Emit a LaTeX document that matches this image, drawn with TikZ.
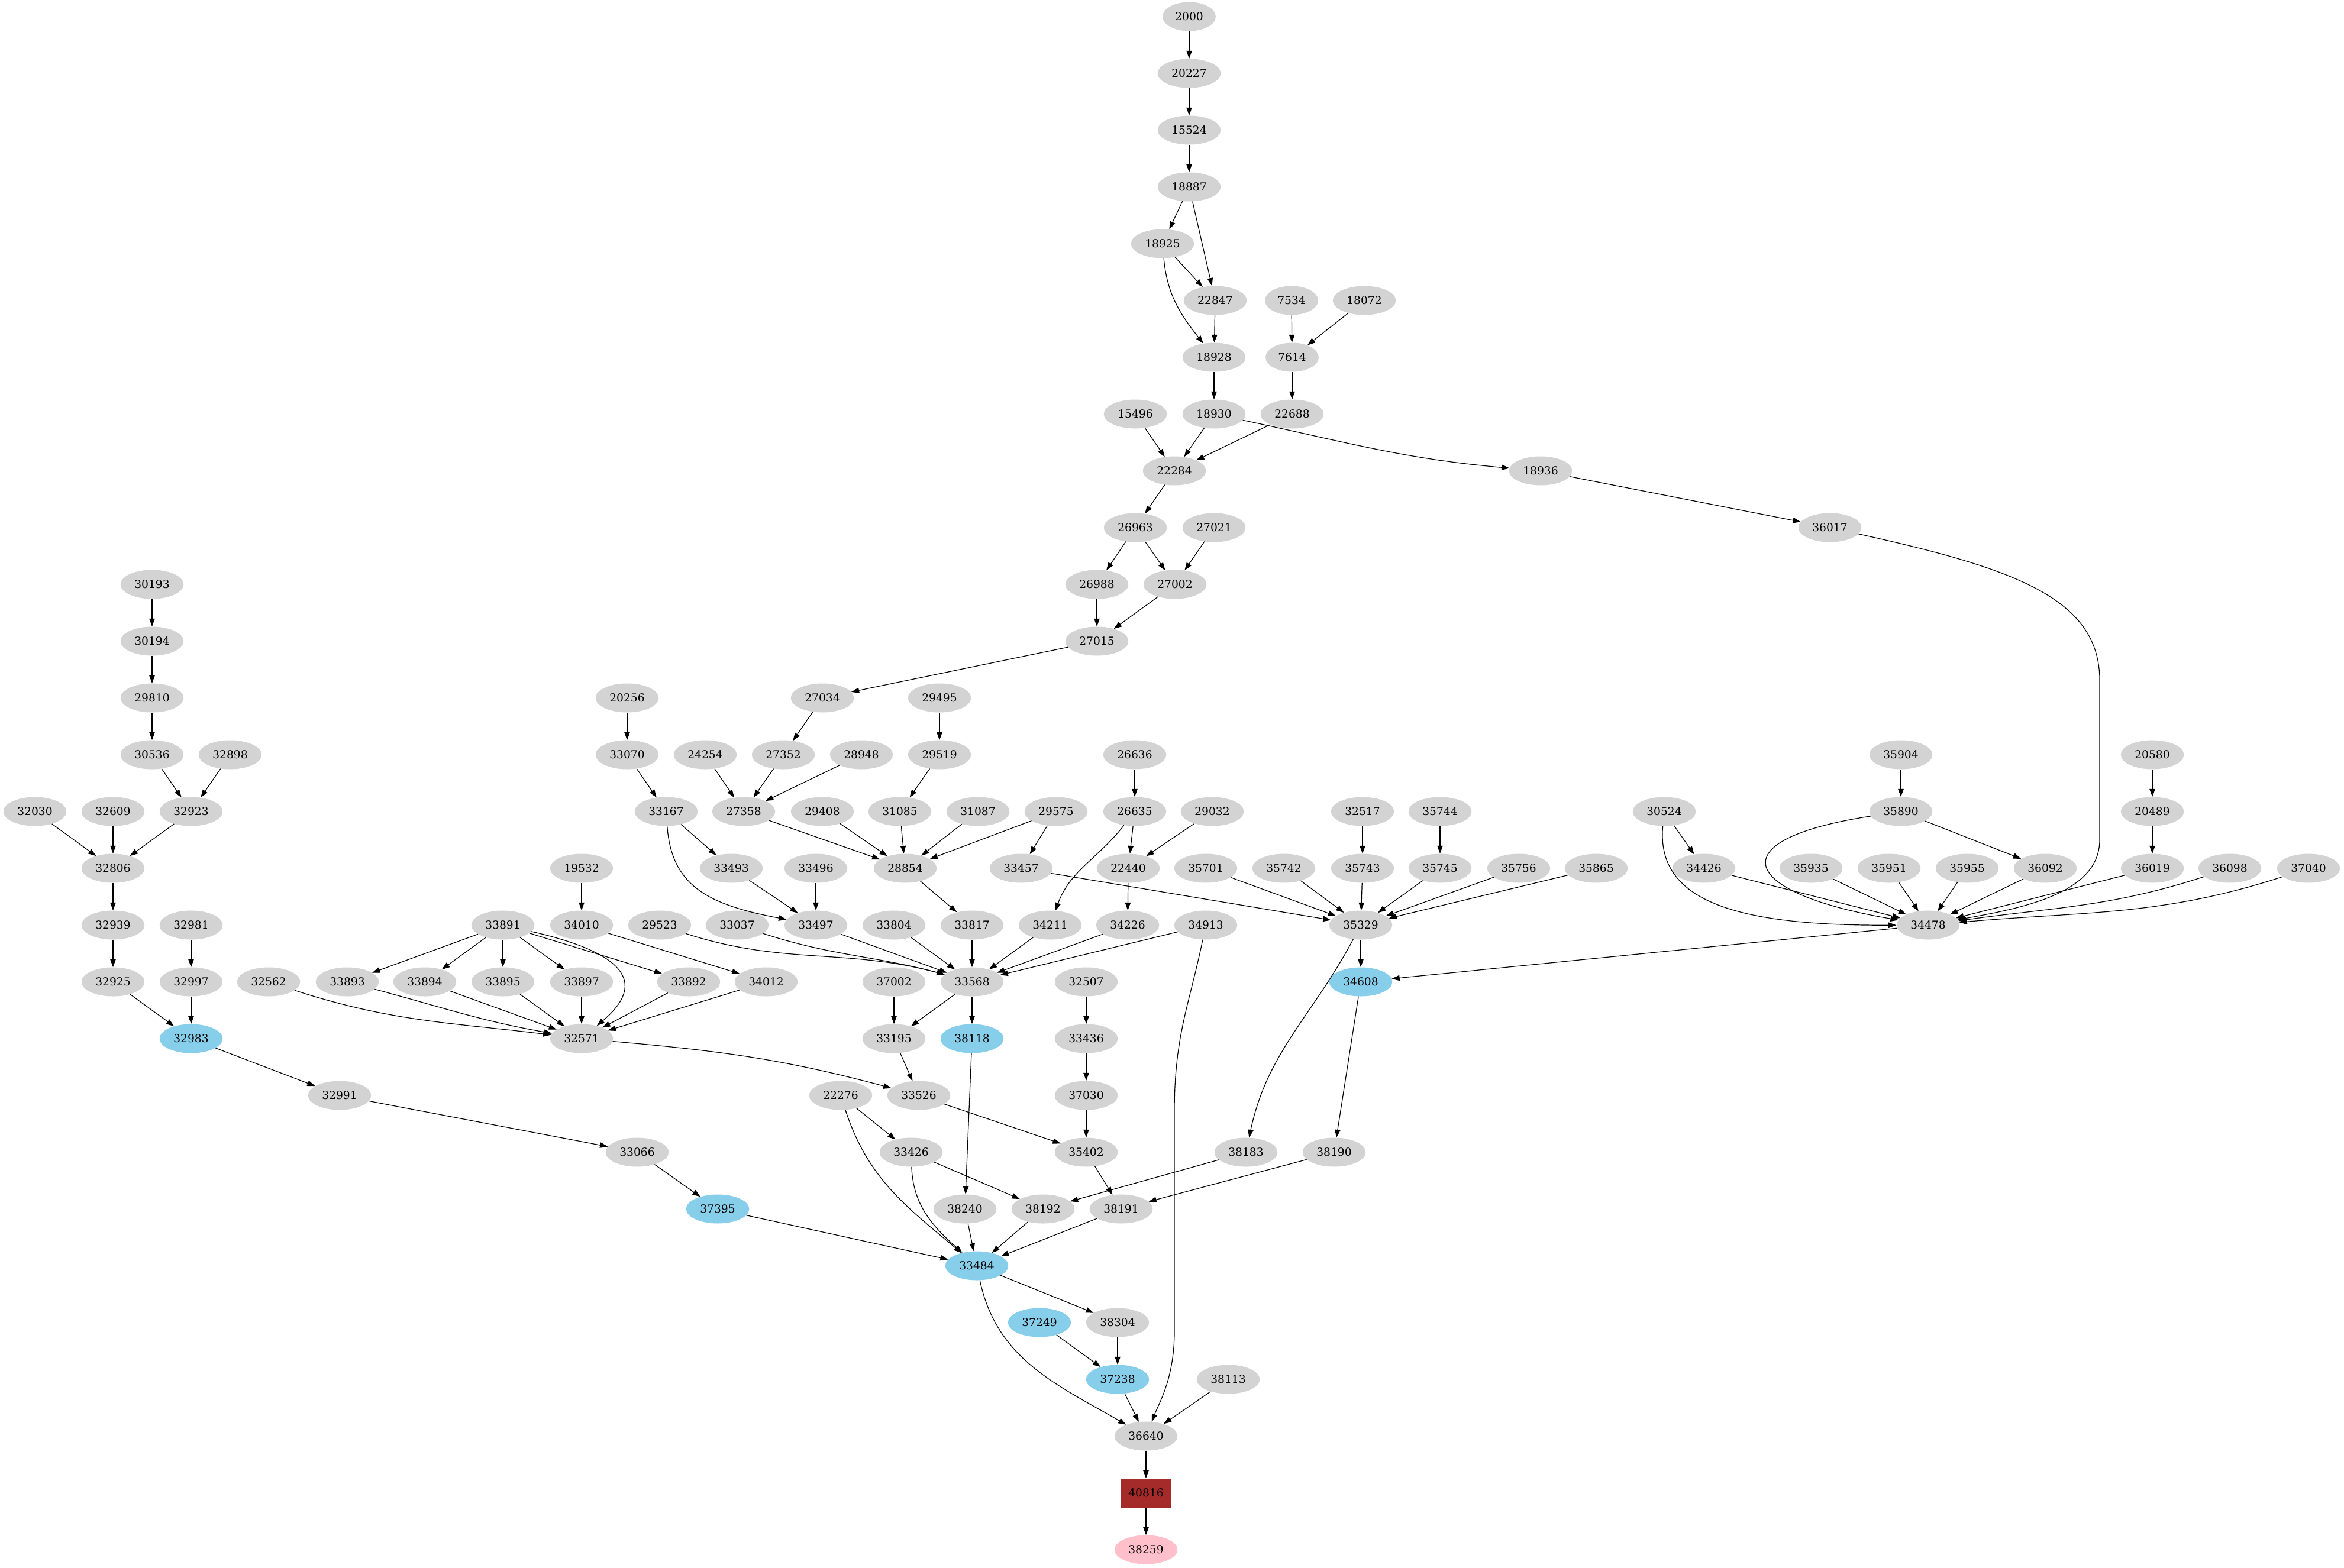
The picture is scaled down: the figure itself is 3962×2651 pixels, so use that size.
\documentclass[tikz,border=0pt]{standalone}
\usepackage{fontspec}
\setmainfont{DejaVu Serif}
\usetikzlibrary{shapes.geometric,arrows.meta}
\definecolor{lgray}{HTML}{D3D3D3}
\definecolor{skyb}{HTML}{87CEEB}
\definecolor{brwn}{HTML}{A52A2A}
\definecolor{pnk}{HTML}{FFC0CB}
\begin{document}
\begin{tikzpicture}[x=0.75pt,y=-0.75pt,font=\fontsize{14}{16}\selectfont,
  nd/.style={ellipse,fill=lgray,inner xsep=6pt,inner ysep=2pt,minimum height=36.75pt},
  hl/.style={nd,fill=skyb},pk/.style={nd,fill=pnk},
  bx/.style={rectangle,fill=brwn,minimum width=63pt,minimum height=36.75pt,inner sep=2pt},
  arr/.style={-{Triangle[length=10pt,width=7pt]},line width=0.9pt}]
\useasboundingbox (0,0) rectangle (3962,2651);
\node[nd] (n2000) at (2010,28) {2000};\node[nd] (n20227) at (2010,124) {20227};\node[nd] (n15524) at (2010,220) {15524};\node[nd] (n18887) at (2010,316) {18887};
\node[nd] (n18925) at (1965,412) {18925};
\node[nd] (n22847) at (2054,508) {22847};\node[nd] (n7534) at (2183,508) {7534};\node[nd] (n18072) at (2306,508) {18072};
\node[nd] (n18928) at (2052,604) {18928};\node[nd] (n7614) at (2184,604) {7614};
\node[nd] (n15496) at (1919,700) {15496};\node[nd] (n18930) at (2052,700) {18930};\node[nd] (n22688) at (2184,700) {22688};
\node[nd] (n22284) at (1985,796) {22284};\node[nd] (n18936) at (2604,796) {18936};
\node[nd] (n26963) at (1919,892) {26963};\node[nd] (n27021) at (2052,892) {27021};\node[nd] (n36017) at (3093,892) {36017};
\node[nd] (n30193) at (257,988) {30193};\node[nd] (n26988) at (1854,988) {26988};\node[nd] (n27002) at (1986,988) {27002};
\node[nd] (n30194) at (257,1084) {30194};\node[nd] (n27015) at (1854,1084) {27015};
\node[nd] (n29810) at (257,1180) {29810};\node[nd] (n20256) at (1060,1180) {20256};\node[nd] (n27034) at (1390,1180) {27034};\node[nd] (n29495) at (1588,1180) {29495};
\node[nd] (n30536) at (257,1276) {30536};\node[nd] (n32898) at (389,1276) {32898};\node[nd] (n33070) at (1060,1276) {33070};\node[nd] (n24254) at (1192,1276) {24254};\node[nd] (n27352) at (1324,1276) {27352};
\node[nd] (n28948) at (1456,1276) {28948};\node[nd] (n29519) at (1588,1276) {29519};\node[nd] (n26636) at (1918,1276) {26636};\node[nd] (n35904) at (3213,1276) {35904};\node[nd] (n20580) at (3638,1276) {20580};
\node[nd] (n32030) at (59,1372) {32030};\node[nd] (n32609) at (191,1372) {32609};\node[nd] (n32923) at (323,1372) {32923};\node[nd] (n33167) at (1126,1372) {33167};\node[nd] (n27358) at (1257,1372) {27358};
\node[nd] (n29408) at (1390,1372) {29408};\node[nd] (n31085) at (1521,1372) {31085};\node[nd] (n31087) at (1653,1372) {31087};\node[nd] (n29575) at (1785,1372) {29575};\node[nd] (n26635) at (1918,1372) {26635};
\node[nd] (n29032) at (2049,1372) {29032};\node[nd] (n32517) at (2303,1372) {32517};\node[nd] (n35744) at (2434,1372) {35744};\node[nd] (n30524) at (2813,1372) {30524};\node[nd] (n35890) at (3213,1372) {35890};\node[nd] (n20489) at (3638,1372) {20489};
\node[nd] (n32806) at (191,1468) {32806};\node[nd] (n19532) at (983,1468) {19532};\node[nd] (n33493) at (1236,1468) {33493};\node[nd] (n33496) at (1379,1468) {33496};\node[nd] (n28854) at (1530,1468) {28854};
\node[nd] (n33457) at (1726,1468) {33457};\node[nd] (n22440) at (1907,1468) {22440};\node[nd] (n35701) at (2038,1468) {35701};\node[nd] (n35742) at (2170,1468) {35742};\node[nd] (n35743) at (2303,1468) {35743};
\node[nd] (n35745) at (2434,1468) {35745};\node[nd] (n35756) at (2567,1468) {35756};\node[nd] (n35865) at (2698,1468) {35865};\node[nd] (n34426) at (2880,1468) {34426};\node[nd] (n35935) at (3061,1468) {35935};
\node[nd] (n35951) at (3193,1468) {35951};\node[nd] (n35955) at (3325,1468) {35955};\node[nd] (n36092) at (3457,1468) {36092};\node[nd] (n36019) at (3638,1468) {36019};\node[nd] (n36098) at (3769,1468) {36098};\node[nd] (n37040) at (3902,1468) {37040};
\node[nd] (n32939) at (191,1564) {32939};\node[nd] (n32981) at (323,1564) {32981};\node[nd] (n33891) at (850,1564) {33891};\node[nd] (n34010) at (983,1564) {34010};\node[nd] (n29523) at (1115,1564) {29523};
\node[nd] (n33037) at (1246,1564) {33037};\node[nd] (n33497) at (1379,1564) {33497};\node[nd] (n33804) at (1511,1564) {33804};\node[nd] (n33817) at (1643,1564) {33817};\node[nd] (n34211) at (1775,1564) {34211};
\node[nd] (n34226) at (1906,1564) {34226};\node[nd] (n34913) at (2038,1564) {34913};\node[nd] (n35329) at (2300,1564) {35329};\node[nd] (n34478) at (3259,1564) {34478};
\node[nd] (n32925) at (191,1660) {32925};\node[nd] (n32997) at (323,1660) {32997};\node[nd] (n32562) at (454,1660) {32562};\node[nd] (n33893) at (587,1660) {33893};\node[nd] (n33894) at (718,1660) {33894};
\node[nd] (n33895) at (850,1660) {33895};\node[nd] (n33897) at (983,1660) {33897};\node[nd] (n33892) at (1164,1660) {33892};\node[nd] (n34012) at (1295,1660) {34012};\node[nd] (n37002) at (1511,1660) {37002};
\node[nd] (n33568) at (1643,1660) {33568};\node[nd] (n32507) at (1836,1660) {32507};\node[hl] (n34608) at (2300,1660) {34608};
\node[hl] (n32983) at (323,1756) {32983};\node[nd] (n32571) at (983,1756) {32571};\node[nd] (n33195) at (1511,1756) {33195};\node[hl] (n38118) at (1643,1756) {38118};\node[nd] (n33436) at (1836,1756) {33436};
\node[nd] (n32991) at (574,1852) {32991};\node[nd] (n22276) at (1421,1852) {22276};\node[nd] (n33526) at (1553,1852) {33526};\node[nd] (n37030) at (1836,1852) {37030};
\node[nd] (n33066) at (1077,1948) {33066};\node[nd] (n33426) at (1540,1948) {33426};\node[nd] (n35402) at (1836,1948) {35402};\node[nd] (n38183) at (2106,1948) {38183};\node[nd] (n38190) at (2255,1948) {38190};
\node[hl] (n37395) at (1213,2044) {37395};\node[nd] (n38240) at (1631,2044) {38240};\node[nd] (n38192) at (1763,2044) {38192};\node[nd] (n38191) at (1895,2044) {38191};
\node[hl] (n33484) at (1651,2140) {33484};
\node[hl] (n37249) at (1757,2236) {37249};\node[nd] (n38304) at (1889,2236) {38304};
\node[hl] (n37238) at (1889,2332) {37238};\node[nd] (n38113) at (2076,2332) {38113};
\node[nd] (n36640) at (1937,2428) {36640};
\node[bx] (n40816) at (1937,2524) {40816};
\node[pk] (n38259) at (1937,2620) {38259};
\begin{scope}[arr]
\draw (n2000) -- (n20227);\draw (n20227) -- (n15524);\draw (n15524) -- (n18887);\draw (n18887) -- (n18925);\draw (n18887) -- (n22847);\draw (n18925) -- (n22847);\draw (n18925) to[out=-85,in=128] (n18928);
\draw (n22847) -- (n18928);\draw (n7534) -- (n7614);\draw (n18072) -- (n7614);\draw (n18928) -- (n18930);\draw (n7614) -- (n22688);\draw (n15496) -- (n22284);\draw (n18930) -- (n22284);\draw (n22688) -- (n22284);
\draw (n18930) to[out=-12,in=175] (n18936);\draw (n22284) -- (n26963);\draw (n18936) -- (n36017);\draw (n26963) -- (n26988);\draw (n26963) -- (n27002);\draw (n27021) -- (n27002);\draw (n26988) -- (n27015);\draw (n27002) -- (n27015);\draw (n27015) -- (n27034);
\draw (n36017) .. controls (3400,960) and (3549,1010) .. (3549,1150) -- (3549,1420) .. controls (3549,1510) and (3420,1535) .. (n34478);
\draw (n30193) -- (n30194);\draw (n30194) -- (n29810);\draw (n29810) -- (n30536);\draw (n30536) -- (n32923);\draw (n32898) -- (n32923);\draw (n32030) -- (n32806);\draw (n32609) -- (n32806);\draw (n32923) -- (n32806);
\draw (n32806) -- (n32939);\draw (n32939) -- (n32925);\draw (n32925) -- (n32983);\draw (n32981) -- (n32997);\draw (n32997) -- (n32983);\draw (n32983) -- (n32991);\draw (n32991) -- (n33066);\draw (n33066) -- (n37395);\draw (n37395) -- (n33484);
\draw (n20256) -- (n33070);\draw (n33070) -- (n33167);\draw (n27034) -- (n27352);\draw (n24254) -- (n27358);\draw (n27352) -- (n27358);\draw (n28948) -- (n27358);\draw (n29495) -- (n29519);\draw (n29519) -- (n31085);
\draw (n33167) -- (n33493);\draw (n33167) .. controls (1135,1500) and (1200,1530) .. (n33497);\draw (n27358) -- (n28854);\draw (n29408) -- (n28854);\draw (n31085) -- (n28854);\draw (n31087) -- (n28854);\draw (n29575) -- (n28854);
\draw (n29575) -- (n33457);\draw (n26636) -- (n26635);\draw (n26635) -- (n22440);\draw (n29032) -- (n22440);\draw (n26635) to[out=-128,in=70] (n34211);\draw (n22440) -- (n34226);\draw (n33493) -- (n33497);\draw (n33496) -- (n33497);
\draw (n28854) -- (n33817);\draw (n33457) -- (n35329);
\draw (n19532) -- (n34010);\draw (n34010) -- (n34012);\draw (n33891) -- (n33893);\draw (n33891) -- (n33894);\draw (n33891) -- (n33895);\draw (n33891) -- (n33897);\draw (n33891) -- (n33892);
\draw (n33891) .. controls (1075,1615) and (1085,1670) .. (n32571);\draw (n32562) to[out=-18,in=173] (n32571);\draw (n33893) to[out=-15,in=170] (n32571);\draw (n33894) -- (n32571);\draw (n33895) -- (n32571);\draw (n33897) -- (n32571);
\draw (n33892) -- (n32571);\draw (n34012) -- (n32571);\draw (n32571) to[out=-5,in=165] (n33526);
\draw (n29523) to[out=-18,in=165] (n33568);\draw (n33037) to[out=-18,in=165] (n33568);\draw (n33497) -- (n33568);\draw (n33804) -- (n33568);\draw (n33817) -- (n33568);\draw (n34211) -- (n33568);\draw (n34226) -- (n33568);\draw (n34913) -- (n33568);
\draw (n33568) -- (n33195);\draw (n33568) -- (n38118);\draw (n37002) -- (n33195);\draw (n33195) -- (n33526);\draw (n33526) -- (n35402);\draw (n32507) -- (n33436);\draw (n33436) -- (n37030);\draw (n37030) -- (n35402);\draw (n35402) -- (n38191);
\draw (n38118) -- (n38240);\draw (n22276) -- (n33426);\draw (n22276) to[out=-72,in=140] (n33484);\draw (n33426) -- (n38192);\draw (n33426) to[out=-88,in=138] (n33484);\draw (n38183) -- (n38192);\draw (n38190) -- (n38191);
\draw (n38240) -- (n33484);\draw (n38192) -- (n33484);\draw (n38191) -- (n33484);
\draw (n32517) -- (n35743);\draw (n35744) -- (n35745);\draw (n35701) -- (n35329);\draw (n35742) -- (n35329);\draw (n35743) -- (n35329);\draw (n35745) -- (n35329);\draw (n35756) -- (n35329);\draw (n35865) -- (n35329);
\draw (n35329) -- (n34608);\draw (n35329) to[out=-118,in=78] (n38183);\draw (n34608) -- (n38190);
\draw (n34913) .. controls (2010,1700) and (1985,1750) .. (1985,1880) -- (1985,2250) .. controls (1985,2330) and (1960,2370) .. (n36640);
\draw (n35904) -- (n35890);\draw (n20580) -- (n20489);\draw (n20489) -- (n36019);\draw (n30524) -- (n34426);\draw (n30524) .. controls (2798,1530) and (2950,1565) .. (n34478);\draw (n35890) -- (n36092);
\draw (n35890) .. controls (2900,1420) and (2941,1510) .. (n34478);\draw (n34426) -- (n34478);\draw (n35935) -- (n34478);\draw (n35951) -- (n34478);\draw (n35955) -- (n34478);\draw (n36092) -- (n34478);\draw (n36019) -- (n34478);
\draw (n36098) to[out=-162,in=8] (n34478);\draw (n37040) to[out=-162,in=5] (n34478);\draw (n34478) -- (n34608);
\draw (n33484) -- (n38304);\draw (n33484) to[out=-78,in=150] (n36640);\draw (n37249) -- (n37238);\draw (n38304) -- (n37238);\draw (n37238) -- (n36640);\draw (n38113) -- (n36640);\draw (n36640) -- (n40816);\draw (n40816) -- (n38259);
\end{scope}
\end{tikzpicture}
\end{document}
